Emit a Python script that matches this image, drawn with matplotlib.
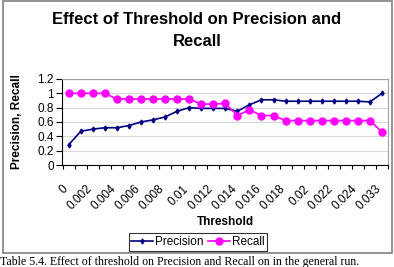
import matplotlib
matplotlib.use('Agg')
import matplotlib.pyplot as plt
from matplotlib.patches import Rectangle

plt.rcParams['font.family'] = ['Liberation Sans', 'DejaVu Sans']

thresholds = ['0', '0.001', '0.002', '0.003', '0.004', '0.005', '0.006', '0.007', '0.008',
              '0.009', '0.01', '0.011', '0.012', '0.013', '0.014', '0.015', '0.016', '0.017',
              '0.018', '0.019', '0.02', '0.021', '0.022', '0.023', '0.024', '0.025', '0.033']
precision = [0.28, 0.47, 0.50, 0.52, 0.52, 0.55, 0.60, 0.63, 0.67, 0.75, 0.80, 0.79, 0.79,
             0.79, 0.75, 0.84, 0.91, 0.91, 0.89, 0.89, 0.89, 0.89, 0.89, 0.89, 0.89, 0.88, 1.0]
recall = [1.0, 1.0, 1.0, 1.0, 0.92, 0.92, 0.92, 0.92, 0.92, 0.92, 0.92, 0.85, 0.85, 0.86,
          0.69, 0.77, 0.69, 0.69, 0.62, 0.62, 0.62, 0.62, 0.62, 0.62, 0.62, 0.62, 0.46]
y_ticks = [0, 0.2, 0.4, 0.6, 0.8, 1, 1.2]

W, H = 394, 267
fig = plt.figure(figsize=(W / 100, H / 100), dpi=100)

# chart border
fig.patches.append(Rectangle((3 / W, 1 - 253 / H), 389 / W, 252 / H, transform=fig.transFigure,
                             fill=False, edgecolor='#808080', linewidth=1.2))

ax = fig.add_axes([62 / W, 1 - 165 / H, (388 - 62) / W, (165 - 79) / H])
x = list(range(len(thresholds)))
ax.plot(x, precision, color='#000080', marker='d', markersize=2.5, linewidth=1.2, label='Precision')
ax.plot(x, recall, color='#FF00FF', marker='o', markersize=5, linewidth=1.2, label='Recall')

ax.set_xlim(-0.5, len(thresholds) - 0.5)
ax.set_ylim(0, 1.2)
ax.set_yticks(y_ticks)
ax.set_yticklabels(['0', '0.2', '0.4', '0.6', '0.8', '1', '1.2'], fontsize=8.5)
ax.yaxis.grid(True, color='#d8d8d8', linewidth=0.8)
ax.set_axisbelow(True)
for s in ['top', 'right']:
    ax.spines[s].set_color('#a0a0a0')
for s in ['left', 'bottom']:
    ax.spines[s].set_color('black')
    ax.spines[s].set_linewidth(0.8)

# tick marks between categories, labels every other category
ax.set_xticks([i - 0.5 for i in range(len(thresholds) + 1)])
ax.set_xticklabels([])
ax.set_xticks([i - 0.55 for i in x[::2]], minor=True)
ax.set_xticklabels(thresholds[::2], minor=True, rotation=45, ha='right', va='top',
                   rotation_mode='anchor', fontsize=8.5)
ax.tick_params(axis='x', which='minor', length=0, pad=13)
ax.tick_params(axis='x', which='major', length=3, direction='out', width=0.8)
ax.tick_params(axis='y', length=4, direction='out', width=0.8, pad=2)

ax.set_xlabel('Threshold', fontsize=8.5, fontweight='bold', labelpad=2)
ax.xaxis.set_label_coords((225 - 62) / (388 - 62), -(216 - 165) / (165 - 79))
ax.set_ylabel('Precision, Recall', fontsize=8.5, fontweight='bold')
ax.yaxis.set_label_coords(-(62 - 23) / (388 - 62), 0.5)

fig.text(197 / W, 1 - 19 / H, 'Effect of Threshold on Precision and', ha='center', va='center',
         fontsize=12, fontweight='bold')
fig.text(197 / W, 1 - 42 / H, 'Recall', ha='center', va='center', fontsize=12, fontweight='bold')

leg = fig.legend(loc='center', bbox_to_anchor=(198 / W, 1 - 242 / H), ncol=2, fontsize=8.5,
                 frameon=True, fancybox=False, edgecolor='black', handlelength=1.8,
                 handletextpad=0.2, columnspacing=0.4, borderpad=0.25)
leg.get_frame().set_linewidth(0.8)

fig.text(0, 1 - 262 / H, 'Table 5.4. Effect of threshold on Precision and Recall on in the general run.',
         ha='left', va='center', fontsize=8.6, family=['Liberation Serif'])

fig.savefig('out.png', dpi=100)
